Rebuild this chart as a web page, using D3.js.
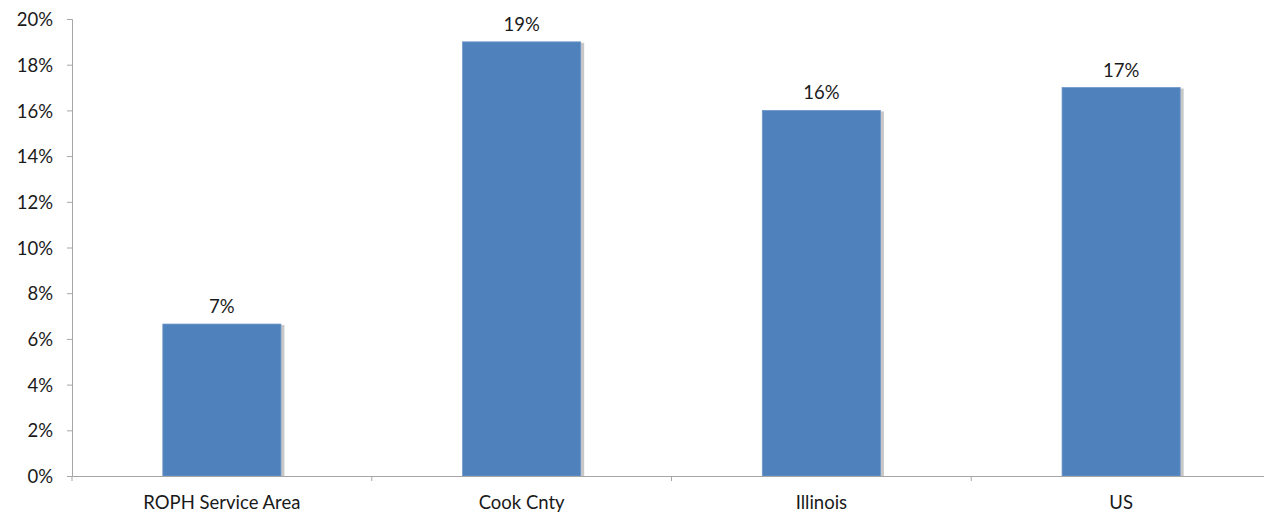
<!DOCTYPE html>
<html><head><meta charset="utf-8">
<script src="https://cdn.jsdelivr.net/npm/d3@7"></script>
<style>body{margin:0;background:#fff}text{font-family:Lato,"Open Sans",sans-serif;fill:#1a1a1a}</style>
</head><body><svg id="c" width="1264" height="514"></svg>
<script>
const categories = ["ROPH Service Area", "Cook Cnty", "Illinois", "US"];
const values = [6.65, 19.0, 16.0, 17.0];
const valueLabels = ["7%", "19%", "16%", "17%"];
const yTicks = [0, 2, 4, 6, 8, 10, 12, 14, 16, 18, 20];

const svg = d3.select("#c");
const mLeft = 72, mRight = 1271, mTop = 19, mBottom = 476;
const fs = 18.5;
const x = d3.scaleBand().domain(categories).range([mLeft, mRight]).paddingInner(0.606).paddingOuter(0.303);
const y = d3.scaleLinear().domain([0, 20]).range([mBottom, mTop]);

// shadows
svg.append("g").selectAll("rect").data(categories).join("rect")
  .attr("x", d => x(d) + 2).attr("y", (d, i) => y(values[i]) + 1)
  .attr("width", x.bandwidth() + 1.5).attr("height", (d, i) => mBottom - y(values[i]) - 1)
  .attr("fill", "#c8c8c8");
svg.append("g").selectAll("rect").data(categories).join("rect")
  .attr("x", d => x(d)).attr("y", (d, i) => y(values[i]))
  .attr("width", x.bandwidth()).attr("height", (d, i) => mBottom - y(values[i]))
  .attr("fill", "#4f81bd").attr("stroke", "#6f97c9").attr("stroke-width", 0.8);

// y axis
const ya = svg.append("g").attr("transform", `translate(${mLeft},0)`)
  .call(d3.axisLeft(y).tickValues(yTicks).tickFormat(d => d + "%").tickSize(5).tickPadding(14));
ya.select(".domain").attr("stroke", "#a6a6a6");
ya.selectAll(".tick line").attr("stroke", "#a6a6a6");
ya.selectAll(".tick text").attr("font-size", fs).attr("fill", "#1a1a1a").attr("dy", "0.36em");

// x axis
const xa = svg.append("g").attr("transform", `translate(0,${mBottom})`)
  .call(d3.axisBottom(x).tickSize(0).tickPadding(0));
xa.select(".domain").attr("stroke", "#a6a6a6");
xa.selectAll(".tick text").attr("font-size", fs).attr("fill", "#1a1a1a").attr("dy", null).attr("y", 33);
const step = x.step();
svg.append("g").selectAll("line").data(d3.range(categories.length + 1)).join("line")
  .attr("x1", i => mLeft + i * step).attr("x2", i => mLeft + i * step)
  .attr("y1", mBottom).attr("y2", mBottom + 5).attr("stroke", "#a6a6a6");

// value labels
svg.append("g").selectAll("text").data(categories).join("text")
  .attr("x", d => x(d) + x.bandwidth() / 2).attr("y", (d, i) => y(values[i]) - 11)
  .attr("text-anchor", "middle").attr("font-size", fs).text((d, i) => valueLabels[i]);
</script></body></html>
